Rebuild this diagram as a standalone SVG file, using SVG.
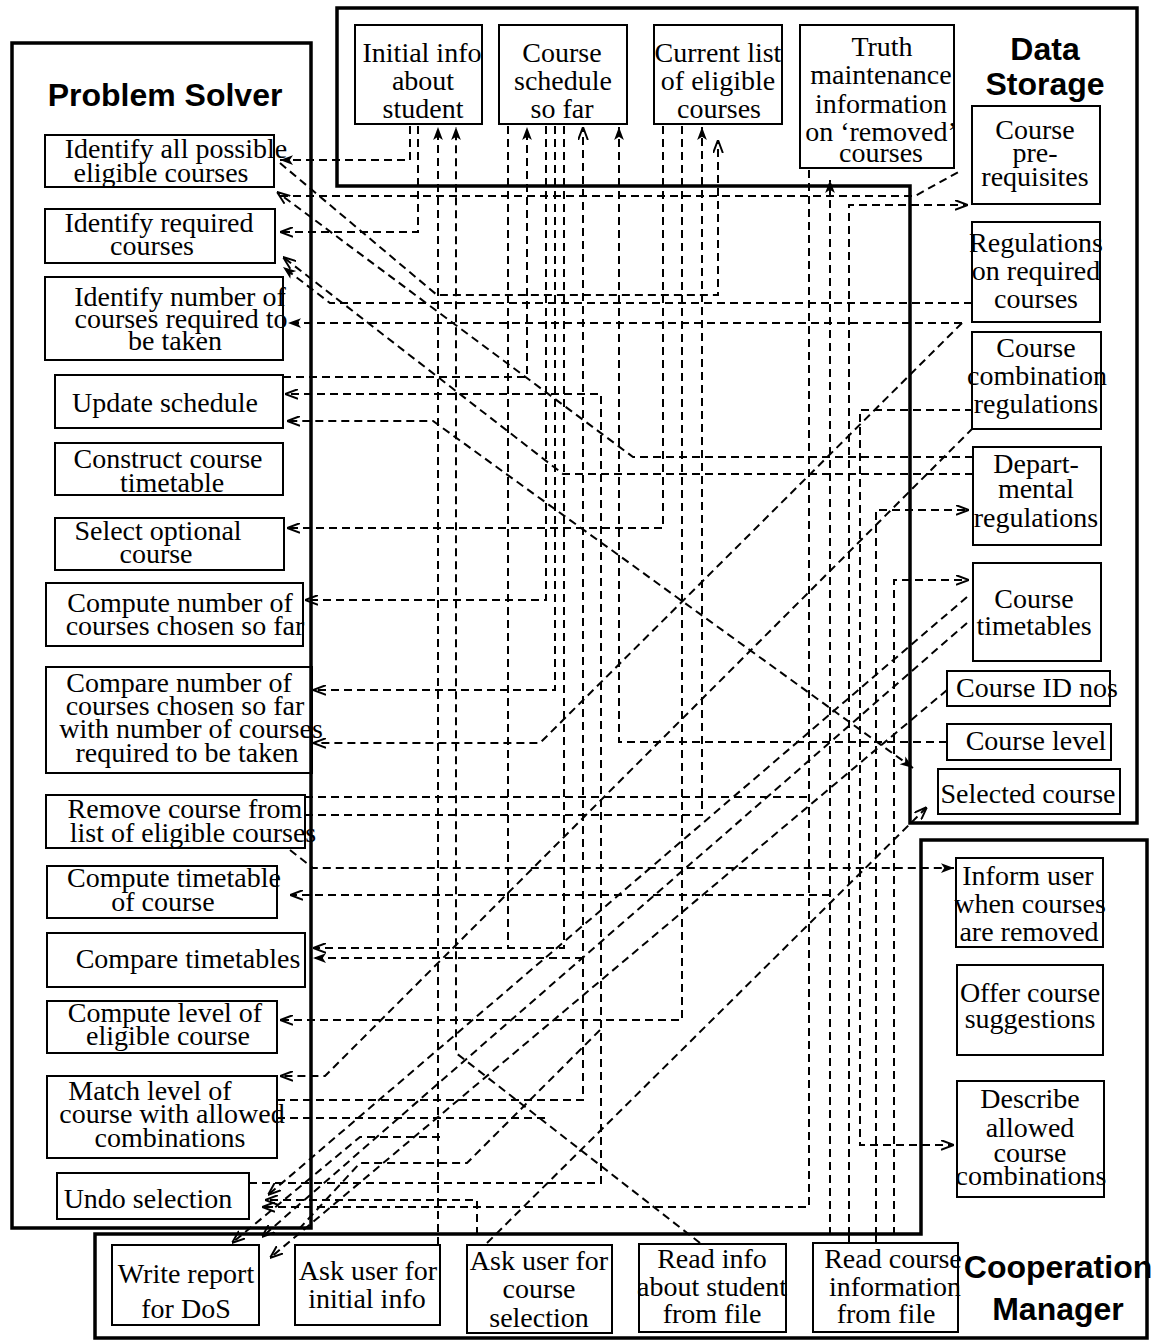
<svg xmlns="http://www.w3.org/2000/svg" width="1153" height="1341" viewBox="0 0 1153 1341">
<style>
  .frame { fill: none; stroke: #000; stroke-width: 3.5; }
  .box { fill: none; stroke: #000; stroke-width: 2; }
  .t { font-family: "Liberation Serif", "Times New Roman", serif; font-size: 28px; fill: #000; text-anchor: middle; }
  .h { font-family: "Liberation Sans", Arial, sans-serif; font-size: 32px; font-weight: bold; fill: #000; text-anchor: middle; }
  .c { fill: none; stroke: #000; stroke-width: 2; stroke-dasharray: 8 5; }
  .s { fill: none; stroke: #000; stroke-width: 2; }
</style>
<defs>
  <marker id="ao" viewBox="0 0 12 10" refX="12" refY="5" markerWidth="13" markerHeight="11" markerUnits="userSpaceOnUse" orient="auto">
    <path d="M0,0.5 L12,5 L0,9.5" fill="none" stroke="#000" stroke-width="1.8" stroke-dasharray="none"/>
  </marker>
  <marker id="af" viewBox="0 0 12 10" refX="12" refY="5" markerWidth="13" markerHeight="11" markerUnits="userSpaceOnUse" orient="auto-start-reverse">
    <path d="M0,0.5 L12,5 L0,9.5 L3,5 Z" fill="#000" stroke="none"/>
  </marker>
</defs>

<!-- component frames -->
<rect id="problem-solver" class="frame" x="12" y="43" width="299" height="1185"/>
<path id="data-storage" class="frame" d="M337,8 H1137 V823 H910 V186 H337 Z"/>
<path id="cooperation-manager" class="frame" d="M95,1234 H921 V840 H1147 V1338 H95 Z"/>
<text class="h" x="165" y="106">Problem Solver</text>
<text class="h" x="1045" y="60">Data</text>
<text class="h" x="1045" y="95">Storage</text>
<text class="h" x="1058" y="1278">Cooperation</text>
<text class="h" x="1058" y="1320">Manager</text>

<!-- connectors -->
<g id="connectors">
  <path class="c" d="M410,126 V160 H280" marker-end="url(#af)"/>
  <path class="c" d="M418,126 V232 H280" marker-end="url(#ao)"/>
  <path class="c" d="M438,1245 V127" marker-end="url(#af)"/>
  <path class="c" d="M700,1243 L456,1053 V127" marker-end="url(#af)"/>
  <path class="c" d="M508,126 V948"/>
  <path class="c" d="M564,126 V948 H313" marker-end="url(#ao)"/>
  <path class="c" d="M283,377 H527 V127" marker-end="url(#af)"/>
  <path class="c" d="M546,126 V600 H305" marker-end="url(#ao)"/>
  <path class="c" d="M555,126 V690 H313" marker-end="url(#ao)"/>
  <path class="c" d="M277,1100 H583 V127" marker-end="url(#ao)"/>
  <path class="c" d="M583,958 H313" marker-end="url(#af)"/>
  <path class="c" d="M249,1183 H601 V394 H285" marker-end="url(#ao)"/>
  <path class="c" d="M947,742 H619 V127" marker-end="url(#af)"/>
  <path class="c" d="M663,126 V528 H287" marker-end="url(#ao)"/>
  <path class="c" d="M682,126 V1020 H280" marker-end="url(#ao)"/>
  <path class="c" d="M305,815 H702 V127" marker-end="url(#af)"/>
  <path class="c" d="M280,163 L437,295 H718 V140" marker-end="url(#ao)"/>
  <path class="c" d="M809,170 V1207 H262" marker-end="url(#ao)"/>
  <path class="c" d="M305,797 H809"/>
  <path class="c" d="M830,1235 V180" marker-end="url(#af)"/>
  <path class="c" d="M830,895 H290" marker-end="url(#ao)"/>
  <path class="c" d="M849,1235 V205 H968" marker-end="url(#ao)"/>
  <path class="c" d="M280,196 H915 L962,170"/>
  <path class="c" d="M973,410 H860 V1145 H954" marker-end="url(#ao)"/>
  <path class="c" d="M876,1235 V510 H969" marker-end="url(#ao)"/>
  <path class="c" d="M894,1235 V580 H969" marker-end="url(#ao)"/>
  <path class="c" d="M973,457 H633 L277,192" marker-end="url(#ao)"/>
  <path class="c" d="M973,474 H563 L283,257" marker-end="url(#ao)"/>
  <path class="c" d="M972,303 H330 L283,267" marker-end="url(#af)"/>
  <path class="c" d="M962,323 H288" marker-end="url(#af)"/>
  <path class="c" d="M962,323 L540,743 H313" marker-end="url(#ao)"/>
  <path class="c" d="M913,768 L433,421 H287" marker-start="url(#af)" marker-end="url(#ao)"/>
  <path class="c" d="M973,428 L325,1076 H280" marker-end="url(#ao)"/>
  <path class="c" d="M290,850 L313,868 H954" marker-end="url(#af)"/>
  <path class="c" d="M487,1243 L927,807" marker-end="url(#ao)"/>
  <path class="c" d="M477,1235 V1200 H265" marker-end="url(#ao)"/>
  <path class="c" d="M277,1118 H547"/>
  <path class="c" d="M967,597 L268,1195" marker-end="url(#ao)"/>
  <path class="c" d="M967,623 L262,1237" marker-end="url(#ao)"/>
  <path class="c" d="M947,690 L270,1258" marker-end="url(#ao)"/>
  <path class="c" d="M440,1137 H360 L232,1243" marker-end="url(#ao)"/>
  <path class="c" d="M600,1030 L467,1163 H360 L300,1228"/>
  <path class="s" d="M849,1235 V1243 M876,1235 V1243"/>
</g>

<!-- Data Storage nodes -->
<g id="initial-info"><rect class="box" x="355" y="25" width="127" height="99"/>
  <text class="t" x="422" y="62">Initial info</text><text class="t" x="423" y="90">about</text><text class="t" x="423" y="118">student</text></g>
<g id="course-schedule"><rect class="box" x="499" y="25" width="128" height="99"/>
  <text class="t" x="562" y="62">Course</text><text class="t" x="563" y="90">schedule</text><text class="t" x="562" y="118">so far</text></g>
<g id="eligible-list"><rect class="box" x="654" y="25" width="128" height="99"/>
  <text class="t" x="718" y="62">Current list</text><text class="t" x="718" y="90">of eligible</text><text class="t" x="719" y="118">courses</text></g>
<g id="truth-maintenance"><rect class="box" x="800" y="25" width="154" height="143"/>
  <text class="t" x="882" y="56">Truth</text><text class="t" x="881" y="84">maintenance</text><text class="t" x="881" y="113">information</text><text class="t" x="881" y="141">on ‘removed’</text><text class="t" x="881" y="162">courses</text></g>
<g id="prerequisites"><rect class="box" x="972" y="106" width="128" height="98"/>
  <text class="t" x="1035" y="139">Course</text><text class="t" x="1035" y="162">pre-</text><text class="t" x="1035" y="186">requisites</text></g>
<g id="required-regulations"><rect class="box" x="972" y="222" width="128" height="100"/>
  <text class="t" x="1036" y="252">Regulations</text><text class="t" x="1036" y="280">on required</text><text class="t" x="1036" y="308">courses</text></g>
<g id="combination-regulations"><rect class="box" x="972" y="332" width="129" height="97"/>
  <text class="t" x="1036" y="357">Course</text><text class="t" x="1037" y="385">combination</text><text class="t" x="1036" y="413">regulations</text></g>
<g id="departmental-regulations"><rect class="box" x="973" y="447" width="128" height="98"/>
  <text class="t" x="1036" y="473">Depart-</text><text class="t" x="1036" y="498">mental</text><text class="t" x="1036" y="527">regulations</text></g>
<g id="course-timetables"><rect class="box" x="973" y="563" width="128" height="98"/>
  <text class="t" x="1034" y="608">Course</text><text class="t" x="1034" y="635">timetables</text></g>
<g id="course-id"><rect class="box" x="947" y="671" width="163" height="35"/>
  <text class="t" x="1037" y="697">Course ID nos</text></g>
<g id="course-level"><rect class="box" x="947" y="724" width="164" height="36"/>
  <text class="t" x="1036" y="750">Course level</text></g>
<g id="selected-course"><rect class="box" x="938" y="769" width="182" height="45"/>
  <text class="t" x="1028" y="803">Selected course</text></g>

<!-- Problem Solver nodes -->
<g id="identify-eligible"><rect class="box" x="45" y="135" width="229" height="52"/>
  <text class="t" x="176" y="158">Identify all possible</text><text class="t" x="161" y="182">eligible courses</text></g>
<g id="identify-required"><rect class="box" x="45" y="209" width="230" height="54"/>
  <text class="t" x="159" y="232">Identify required</text><text class="t" x="152" y="255">courses</text></g>
<g id="identify-number"><rect class="box" x="45" y="277" width="238" height="83"/>
  <text class="t" x="180" y="306">Identify number of</text><text class="t" x="181" y="328">courses required to</text><text class="t" x="175" y="350">be taken</text></g>
<g id="update-schedule"><rect class="box" x="55" y="375" width="228" height="53"/>
  <text class="t" x="165" y="412">Update schedule</text></g>
<g id="construct-timetable"><rect class="box" x="55" y="443" width="228" height="52"/>
  <text class="t" x="168" y="468">Construct course</text><text class="t" x="172" y="492">timetable</text></g>
<g id="select-optional"><rect class="box" x="55" y="518" width="229" height="52"/>
  <text class="t" x="158" y="540">Select optional</text><text class="t" x="156" y="563">course</text></g>
<g id="compute-number"><rect class="box" x="46" y="583" width="257" height="63"/>
  <text class="t" x="180" y="612">Compute number of</text><text class="t" x="185" y="635">courses chosen so far</text></g>
<g id="compare-number"><rect class="box" x="46" y="667" width="266" height="106"/>
  <text class="t" x="179" y="692">Compare number of</text><text class="t" x="185" y="715">courses chosen so far</text><text class="t" x="191" y="738">with number of courses</text><text class="t" x="187" y="762">required to be taken</text></g>
<g id="remove-course"><rect class="box" x="46" y="795" width="259" height="53"/>
  <text class="t" x="185" y="818">Remove course from</text><text class="t" x="193" y="842">list of eligible courses</text></g>
<g id="compute-timetable"><rect class="box" x="47" y="866" width="230" height="52"/>
  <text class="t" x="174" y="887">Compute timetable</text><text class="t" x="163" y="911">of course</text></g>
<g id="compare-timetables"><rect class="box" x="47" y="933" width="258" height="54"/>
  <text class="t" x="188" y="968">Compare timetables</text></g>
<g id="compute-level"><rect class="box" x="47" y="1001" width="230" height="52"/>
  <text class="t" x="165" y="1022">Compute level of</text><text class="t" x="168" y="1045">eligible course</text></g>
<g id="match-level"><rect class="box" x="47" y="1076" width="230" height="82"/>
  <text class="t" x="150" y="1100">Match level of</text><text class="t" x="172" y="1123">course with allowed</text><text class="t" x="170" y="1147">combinations</text></g>
<g id="undo-selection"><rect class="box" x="57" y="1173" width="192" height="46"/>
  <text class="t" x="148" y="1208">Undo selection</text></g>

<!-- Cooperation Manager nodes -->
<g id="inform-user"><rect class="box" x="956" y="858" width="147" height="89"/>
  <text class="t" x="1028" y="885">Inform user</text><text class="t" x="1030" y="913">when courses</text><text class="t" x="1029" y="941">are removed</text></g>
<g id="offer-suggestions"><rect class="box" x="957" y="965" width="146" height="90"/>
  <text class="t" x="1030" y="1002">Offer course</text><text class="t" x="1030" y="1028">suggestions</text></g>
<g id="describe-combinations"><rect class="box" x="957" y="1081" width="147" height="116"/>
  <text class="t" x="1030" y="1108">Describe</text><text class="t" x="1030" y="1137">allowed</text><text class="t" x="1030" y="1162">course</text><text class="t" x="1031" y="1185">combinations</text></g>
<g id="write-report"><rect class="box" x="112" y="1245" width="147" height="80"/>
  <text class="t" x="186" y="1283">Write report</text><text class="t" x="186" y="1318">for DoS</text></g>
<g id="ask-initial"><rect class="box" x="295" y="1245" width="145" height="80"/>
  <text class="t" x="368" y="1280">Ask user for</text><text class="t" x="367" y="1308">initial info</text></g>
<g id="ask-selection"><rect class="box" x="467" y="1245" width="145" height="88"/>
  <text class="t" x="539" y="1270">Ask user for</text><text class="t" x="539" y="1298">course</text><text class="t" x="539" y="1327">selection</text></g>
<g id="read-student"><rect class="box" x="639" y="1244" width="147" height="88"/>
  <text class="t" x="712" y="1268">Read info</text><text class="t" x="712" y="1296">about student</text><text class="t" x="712" y="1323">from file</text></g>
<g id="read-course"><rect class="box" x="813" y="1243" width="145" height="89"/>
  <text class="t" x="893" y="1268">Read course</text><text class="t" x="895" y="1296">information</text><text class="t" x="886" y="1323">from file</text></g>
</svg>
